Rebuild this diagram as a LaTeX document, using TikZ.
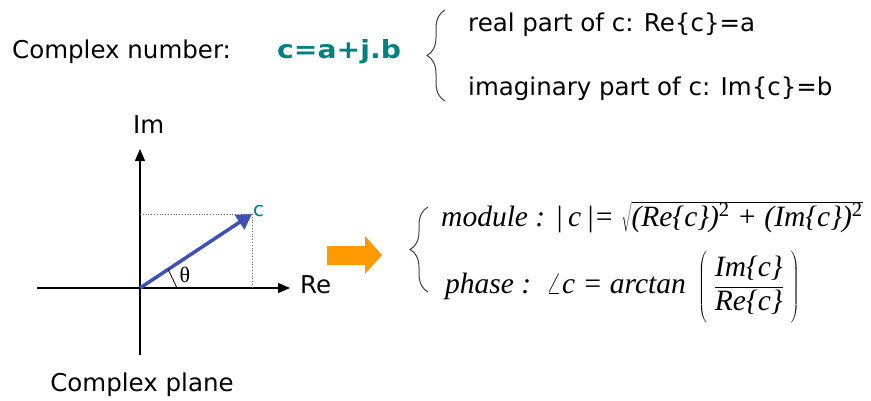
\documentclass[tikz,border=0pt]{standalone}
\usepackage{fontspec}
\setmainfont{DejaVu Sans}
\newfontfamily\formfont{Liberation Serif}
\usetikzlibrary{arrows.meta, decorations.pathreplacing}
\definecolor{tealc}{RGB}{0,128,128}
\definecolor{vecblue}{RGB}{63,81,181}
\definecolor{amber}{RGB}{255,153,0}

\tikzset{
  txt/.style={font=\fontsize{24.5}{28}\selectfont, inner sep=0pt, anchor=base west},
  formula/.style={font=\formfont\itshape\fontsize{29.5}{34}\selectfont, inner sep=0pt, anchor=base west},
  axis/.style={line width=1.3pt, -{Triangle[length=12pt, width=10pt]}},
  bracket/.style={decorate, decoration={brace, amplitude=18pt}, line width=1pt, black!75},
  guide/.style={dotted, line width=0.8pt, black!60}
}

\begin{document}
\begin{tikzpicture}[x=1pt, y=-1pt]
  \useasboundingbox (0,0) rectangle (871,400);
  % Definition of c
  \node[txt] (cnum) at (12,58) {Complex number:};
  \node[txt, font=\bfseries\fontsize{25}{30}\selectfont, tealc] (cdef) at (277,58) {\scalebox{1.13}[1]{c=a+j.b}};
  \node[txt] (repart) at (468,31) {real part of c: Re\{c\}=a};
  \node[txt] (impart) at (468,95) {imaginary part of c: Im\{c\}=b};
  \draw[bracket] (445,101) -- (445,10);
  % Complex plane
  \coordinate (O) at (140,288);
  \coordinate (xmin) at (37,288);
  \coordinate (xmax) at (290,288);
  \coordinate (ymin) at (140,355);
  \coordinate (ymax) at (140,149);
  \coordinate (C) at (252,214);
  \draw[axis] (xmin) -- (xmax);
  \draw[axis] (ymin) -- (ymax);
  \draw[guide] (O |- C) -- (C) -- (C |- O);
  \draw[vecblue, line width=3.5pt, -{Triangle[length=15pt, width=17pt]}] (O) -- (C);
  \draw[line width=0.8pt] (168,269) -- (177,288);
  \node[font=\formfont\fontsize{22}{26}\selectfont, inner sep=0pt] (theta) at (185,275) {θ};
  \node[txt, tealc, font=\fontsize{20}{24}\selectfont] (clab) at (253,216) {c};
  \node[txt] (imlab) at (133,133) {Im};
  \node[txt] (relab) at (300,293) {Re};
  \node[txt, anchor=base] (plane) at (142,391) {Complex plane};
  % Arrow to the formulas
  \fill[amber] (327,246) -- (365,246) -- (365,236) -- (382,255) -- (365,274) -- (365,265) -- (327,265) -- cycle;
  % Module and phase
  \draw[bracket] (428,292) -- (428,207);
  \node[formula] (module) at (441,226) {module : |\,c\,|= $\sqrt{\hbox{(Re\{c\})\textsuperscript{\upshape 2} + (Im\{c\})\textsuperscript{\upshape 2}}}$};
  \node[formula] (phase) at (445,293) {phase : \,$\angle$c = arctan\, $\left(\vrule height 44pt depth 29pt width 0pt\;\displaystyle\frac{\hbox{Im\{c\}}}{\hbox{Re\{c\}}}\;\right)$};
\end{tikzpicture}
\end{document}
